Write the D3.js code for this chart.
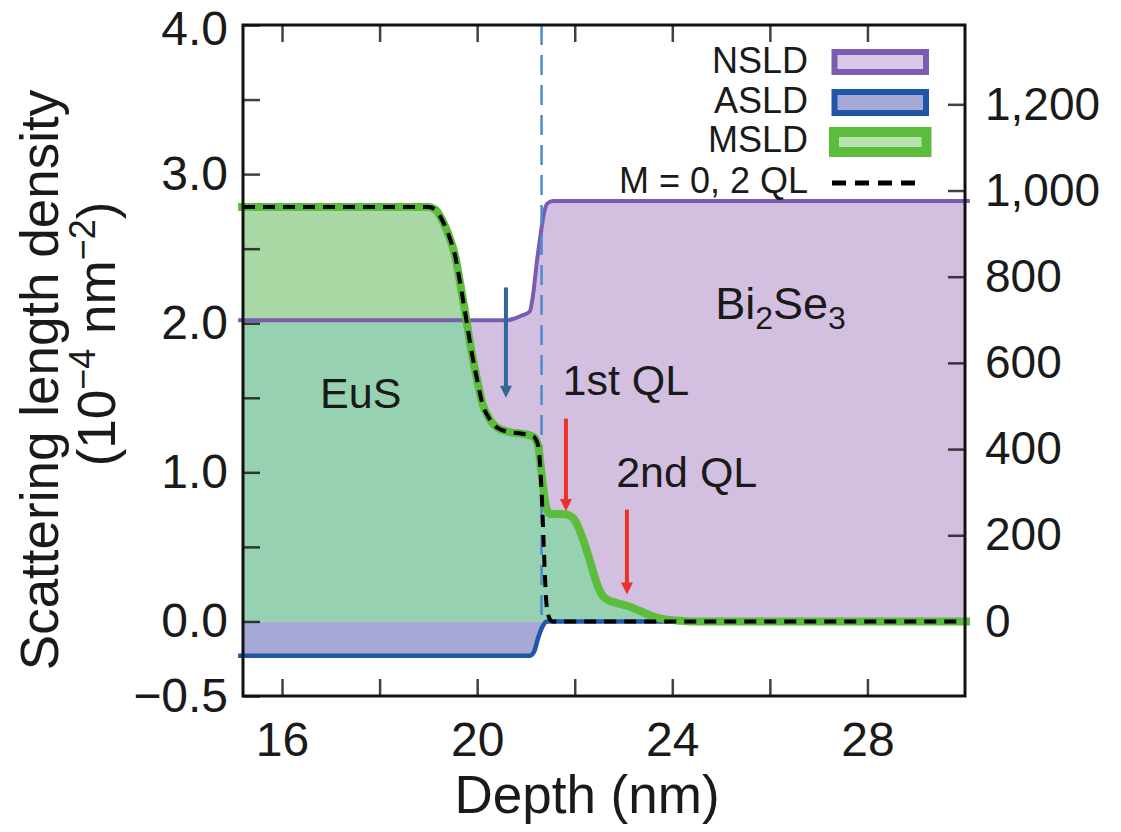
<!DOCTYPE html>
<html>
<head>
<meta charset="utf-8">
<script src="https://cdn.jsdelivr.net/npm/d3@7"></script>
<style>
  html, body { margin: 0; padding: 0; background: #fff; }
  svg { display: block; font-family: "Liberation Sans", Arial, Helvetica, sans-serif; }
</style>
</head>
<body>
<svg id="chart" width="1121" height="832"></svg>
<script>
// Depth profiles (nm) and scattering length densities (10^-4 nm^-2)
const nsldDepth = [15.1, 20.6, 20.75, 20.9, 21.08, 21.15, 21.22, 21.29, 21.36, 21.43, 21.55, 30.1];
const nsldValue = [2.02, 2.02, 2.03, 2.05, 2.08, 2.2, 2.4, 2.57, 2.72, 2.8, 2.82, 2.82];

const asldDepth = [15.1, 21.08, 21.17, 21.25, 21.33, 21.43, 30.1];
const asldValue = [-0.23, -0.23, -0.2, -0.11, -0.04, 0.0, 0.0];

const msldDepth = [15.1, 19.0, 19.15, 19.3, 19.45, 19.55, 19.65, 19.75, 19.89, 20.0, 20.1, 20.25, 20.41,
  20.67, 20.9, 21.15, 21.25, 21.3, 21.36, 21.42, 21.5, 21.76, 21.9, 22.0, 22.17, 22.28, 22.38, 22.48,
  22.58, 22.7, 22.85, 23.07, 23.34, 23.61, 23.89, 24.2, 24.5, 30.1];
const msldValue = [2.78, 2.78, 2.76, 2.68, 2.56, 2.45, 2.27, 2.08, 1.8, 1.62, 1.47, 1.36, 1.3,
  1.27, 1.26, 1.24, 1.18, 1.05, 0.88, 0.76, 0.72, 0.72, 0.71, 0.68, 0.55, 0.44, 0.33, 0.23,
  0.17, 0.14, 0.125, 0.105, 0.07, 0.033, 0.012, 0.004, 0.0, 0.0];

// Model with no magnetisation in the first two quintuple layers
const m0Depth = [15.2, 19.0, 19.15, 19.3, 19.45, 19.55, 19.65, 19.75, 19.89, 20.0, 20.1, 20.25, 20.41,
  20.67, 20.9, 21.15, 21.25, 21.3, 21.33, 21.36, 21.39, 21.42, 21.47, 21.55, 30.0];
const m0Value = [2.78, 2.78, 2.76, 2.68, 2.56, 2.45, 2.27, 2.08, 1.8, 1.62, 1.47, 1.36, 1.3,
  1.27, 1.26, 1.24, 1.18, 1.0, 0.8, 0.55, 0.3, 0.12, 0.03, 0.0, 0.0];

// Interface position (nm)
const interfaceDepth = 21.32;

// Axis ticks
const depthTicks = [16, 18, 20, 22, 24, 26, 28];
const depthLabels = [16, 20, 24, 28];
const sldTicks = [-0.5, 0, 0.5, 1, 1.5, 2, 2.5, 3, 3.5, 4];
const sldLabels = [-0.5, 0, 1, 2, 3, 4];
const magTicks = [0, 200, 400, 600, 800, 1000, 1200];

// MSLD per unit magnetisation: 10^-4 nm^-2 per emu cm^-3
const msldPerEmu = 0.00289;

// Layer labels and arrows (depth, SLD)
const layerLabels = [
  { text: "EuS", depth: 16.78, sld: 1.43 },
  { text: "1st QL", depth: 21.75, sld: 1.52 },
  { text: "2nd QL", depth: 22.85, sld: 0.9 }
];
const arrows = [
  { depth: 20.59, from: 2.24, to: 1.5, color: "#2f6996" },
  { depth: 21.82, from: 1.36, to: 0.74, color: "#ec3228" },
  { depth: 23.07, from: 0.75, to: 0.18, color: "#ec3228" }
];

const legendItems = ["NSLD", "ASLD", "MSLD", "M = 0, 2 QL"];

const svg = d3.select("#chart");
const pLeft = 243, pRight = 965, pTop = 25, pBottom = 696;

const x = d3.scaleLinear().domain([15.2, 30.0]).range([pLeft, pRight]);
const y = d3.scaleLinear().domain([-0.5, 4.0]).range([pBottom, pTop]);
const y2 = d3.scaleLinear().domain([-0.5 / msldPerEmu, 4.0 / msldPerEmu]).range([pBottom, pTop]);

const pts = (ds, vs) => ds.map((d, i) => [d, vs[i]]);
const nsld = pts(nsldDepth, nsldValue);
const asld = pts(asldDepth, asldValue);
const msld = pts(msldDepth, msldValue);
const m0 = pts(m0Depth, m0Value);

const curve = d3.curveMonotoneX;
const area0 = d3.area().x(d => x(d[0])).y0(y(0)).y1(d => y(d[1])).curve(curve);
const line = d3.line().x(d => x(d[0])).y(d => y(d[1])).curve(curve);

const defs = svg.append("defs");
defs.append("clipPath").attr("id", "plotClip")
  .append("rect").attr("x", pLeft).attr("y", pTop).attr("width", pRight - pLeft).attr("height", pBottom - pTop);
defs.append("clipPath").attr("id", "nsldClip")
  .append("path").attr("d", area0(nsld));

const plot = svg.append("g").attr("clip-path", "url(#plotClip)");

// Filled profiles
plot.append("path").attr("d", area0(nsld)).attr("fill", "#d3c0e0");
plot.append("path").attr("d", area0(asld)).attr("fill", "#a6a8d6");
plot.append("path").attr("d", area0(msld)).attr("fill", "#a8d8a3");
plot.append("g").attr("clip-path", "url(#nsldClip)")
  .append("path").attr("d", area0(msld)).attr("fill", "#96d1b1");

// Axes with inward ticks
const tickLen = 17;
const styleAxis = g => {
  g.select(".domain").remove();
  g.selectAll(".tick line").attr("stroke", "#111").attr("stroke-opacity", 0.8).attr("stroke-width", 2.5);
  g.selectAll(".tick text").attr("font-size", 48).attr("fill", "#1a1a1a")
    .attr("font-family", "'Liberation Sans', Arial, Helvetica, sans-serif");
};
const fmtSld = d3.format(".1f");

svg.append("g").attr("transform", `translate(${pLeft},0)`)
  .call(d3.axisLeft(y).tickValues(sldTicks).tickSize(-tickLen).tickPadding(15)
    .tickFormat(d => sldLabels.includes(d) ? fmtSld(d) : ""))
  .call(styleAxis)
  .call(g => g.selectAll(".tick").filter(d => d === 4).select("text").attr("dy", "0.41em"));

svg.append("g").attr("transform", `translate(${pRight},0)`)
  .call(d3.axisRight(y2).tickValues(magTicks).tickSize(-tickLen).tickPadding(20)
    .tickFormat(d3.format(",")))
  .call(styleAxis)
  .call(g => g.selectAll(".tick text").attr("font-size", 46));

svg.append("g").attr("transform", `translate(0,${pBottom})`)
  .call(d3.axisBottom(x).tickValues(depthTicks).tickSize(-tickLen).tickPadding(26)
    .tickFormat(d => depthLabels.includes(d) ? d : ""))
  .call(styleAxis);

svg.append("g").attr("transform", `translate(0,${pTop})`)
  .call(d3.axisTop(x).tickValues(depthTicks).tickSize(-tickLen).tickFormat(""))
  .call(styleAxis);

// Profile lines
const lines = svg.append("g");
lines.append("path").attr("d", line(nsld)).attr("fill", "none")
  .attr("stroke", "#7a5cb2").attr("stroke-width", 4);
lines.append("path").attr("d", line(asld)).attr("fill", "none")
  .attr("stroke", "#1f56a8").attr("stroke-width", 4.5);

// Interface marker
lines.append("line")
  .attr("x1", x(interfaceDepth)).attr("x2", x(interfaceDepth))
  .attr("y1", y(4.0)).attr("y2", y(0))
  .attr("stroke", "#4a8cd0").attr("stroke-width", 2.5).attr("stroke-dasharray", "20 10");

lines.append("path").attr("d", line(msld)).attr("fill", "none")
  .attr("stroke", "#5cbd3c").attr("stroke-width", 8).attr("stroke-linejoin", "round");
lines.append("path").attr("d", line(m0)).attr("fill", "none")
  .attr("stroke", "#000").attr("stroke-width", 4).attr("stroke-dasharray", "12 8");

// Arrows
arrows.forEach(a => {
  const xa = x(a.depth), ya = y(a.from), yb = y(a.to);
  svg.append("line").attr("x1", xa).attr("x2", xa).attr("y1", ya).attr("y2", yb - 8)
    .attr("stroke", a.color).attr("stroke-width", 4);
  svg.append("path")
    .attr("d", `M${xa - 6},${yb - 12} L${xa + 6},${yb - 12} L${xa},${yb} Z`)
    .attr("fill", a.color);
});

// Layer labels
const labelG = svg.append("g").attr("font-size", 43).attr("fill", "#1a1a1a");
layerLabels.forEach(l => {
  labelG.append("text").attr("x", x(l.depth)).attr("y", y(l.sld)).text(l.text);
});
const bi = labelG.append("text").attr("x", x(24.88)).attr("y", y(2.03)).attr("font-size", 45);
bi.append("tspan").text("Bi");
bi.append("tspan").attr("font-size", 32).attr("dy", 10).text("2");
bi.append("tspan").attr("dy", -10).text("Se");
bi.append("tspan").attr("font-size", 32).attr("dy", 10).text("3");

// Frame
svg.append("rect").attr("x", pLeft).attr("y", pTop).attr("width", pRight - pLeft).attr("height", pBottom - pTop)
  .attr("fill", "none").attr("stroke", "#111").attr("stroke-width", 3);

// Axis titles
svg.append("text").attr("transform", `translate(58,380) rotate(-90)`)
  .attr("text-anchor", "middle").attr("font-size", 53).attr("fill", "#1a1a1a")
  .text("Scattering length density");
const unit = svg.append("text").attr("transform", `translate(115,334) rotate(-90)`)
  .attr("text-anchor", "middle").attr("font-size", 53).attr("fill", "#1a1a1a");
unit.append("tspan").text("(10");
unit.append("tspan").attr("font-size", 36).attr("dy", -20).text("\u22124");
unit.append("tspan").attr("dy", 20).text(" nm");
unit.append("tspan").attr("font-size", 36).attr("dy", -20).text("\u22122");
unit.append("tspan").attr("dy", 20).text(")");

svg.append("text").attr("x", 587).attr("y", 813)
  .attr("text-anchor", "middle").attr("font-size", 53).attr("fill", "#1a1a1a")
  .text("Depth (nm)");

// Legend
const legend = svg.append("g").attr("font-size", 36).attr("fill", "#1a1a1a");
const legendBase = [73, 113, 152, 193];
legendItems.forEach((t, i) => {
  legend.append("text").attr("x", 808).attr("y", legendBase[i]).attr("text-anchor", "end").text(t);
});
legend.append("rect").attr("x", 834.5).attr("y", 52).attr("width", 91.5).attr("height", 20)
  .attr("fill", "#dac8e6").attr("stroke", "#7a5cb2").attr("stroke-width", 6);
legend.append("rect").attr("x", 834.5).attr("y", 92).attr("width", 91.5).attr("height", 21)
  .attr("fill", "#a6a8d6").attr("stroke", "#1f56a8").attr("stroke-width", 6);
legend.append("rect").attr("x", 834).attr("y", 132).attr("width", 92.5).attr("height", 20)
  .attr("fill", "#b8e2b0").attr("stroke", "#5cbd3c").attr("stroke-width", 10);
legend.append("line").attr("x1", 832).attr("x2", 920).attr("y1", 183).attr("y2", 183)
  .attr("stroke", "#000").attr("stroke-width", 5).attr("stroke-dasharray", "14 9");
</script>
</body>
</html>
